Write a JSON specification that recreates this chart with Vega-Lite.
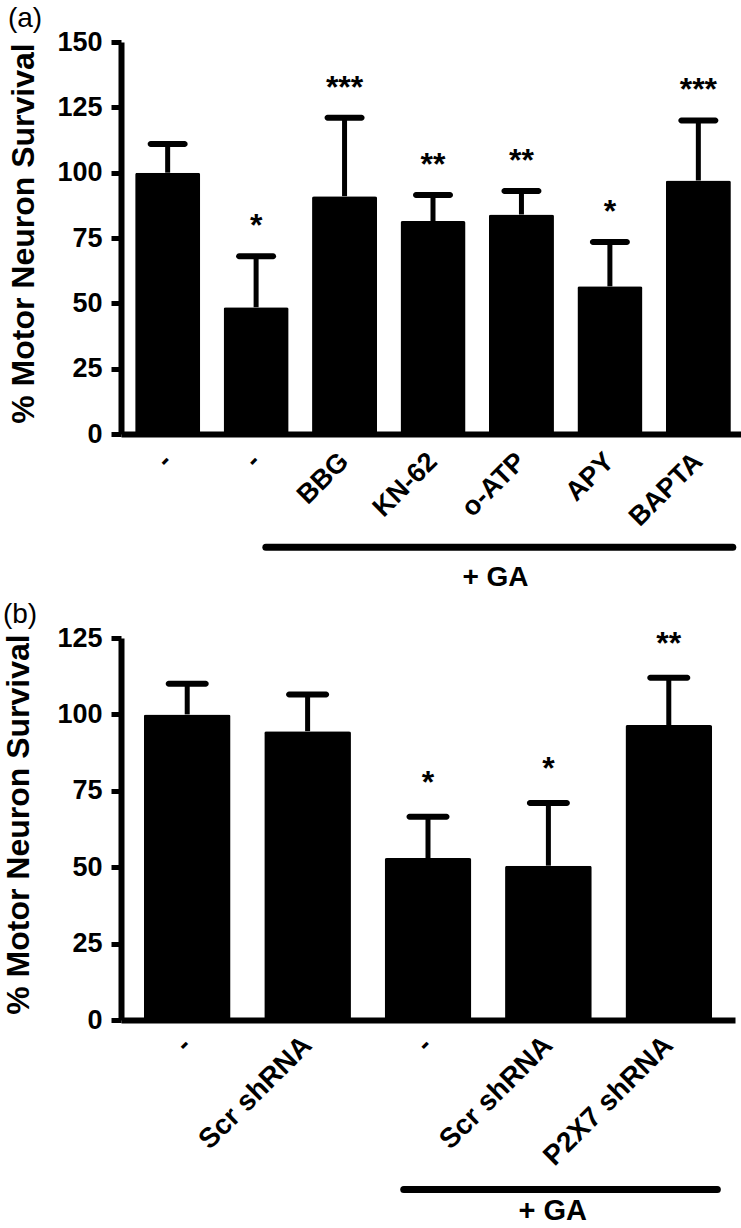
{
  "$schema": "https://vega.github.io/schema/vega-lite/v6.json",
  "padding": {"left": 2, "top": 5, "right": 0, "bottom": 0},
  "background": "white",
  "spacing": 9,
  "align": "none",
  "config": {
    "font": "Liberation Sans",
    "view": {"stroke": null},
    "axis": {
      "domainColor": "black", "domainWidth": 6, "tickColor": "black", "tickWidth": 5, "tickSize": 10,
      "labelFont": "Liberation Sans", "labelFontWeight": "bold", "labelColor": "black",
      "titleFont": "Liberation Sans", "titleFontWeight": "bold", "titleColor": "black", "grid": false
    },
    "axisX": {"ticks": false, "labels": false},
    "title": {"font": "Liberation Sans", "fontWeight": "normal", "fontSize": 28, "color": "black", "anchor": "start", "frame": "bounds", "offset": -5}
  },
  "vconcat": [
    {
      "title": "(a)",
      "width": 624,
      "height": 392,
      "data": {"values": [
        {"group": "ctrl", "label": "-", "mean": 100, "cap": 111, "sig": ""},
        {"group": "ga", "label": "-", "mean": 48.5, "cap": 68, "sig": "*"},
        {"group": "BBG", "label": "BBG", "mean": 91, "cap": 121, "sig": "***"},
        {"group": "KN-62", "label": "KN-62", "mean": 81.5, "cap": 91.5, "sig": "**"},
        {"group": "o-ATP", "label": "o-ATP", "mean": 84, "cap": 93, "sig": "**"},
        {"group": "APY", "label": "APY", "mean": 56.5, "cap": 73.5, "sig": "*"},
        {"group": "BAPTA", "label": "BAPTA", "mean": 97, "cap": 120, "sig": "***"}
      ]},
      "encoding": {
        "x": {"field": "group", "type": "nominal", "sort": null,
          "scale": {"domain": ["ctrl", "ga", "BBG", "KN-62", "o-ATP", "APY", "BAPTA"], "paddingInner": 0.265, "paddingOuter": 0.16},
          "axis": {"title": null, "ticks": false, "labels": false}},
        "y": {"type": "quantitative", "scale": {"domain": [0, 150], "nice": false},
          "axis": {"title": "% Motor Neuron Survival", "values": [0, 25, 50, 75, 100, 125, 150], "labelFontSize": 27, "titleFontSize": 32, "labelPadding": 9, "titlePadding": 16, "titleY": 191}}
      },
      "layer": [
        {"mark": {"type": "rule", "color": "black", "strokeWidth": 5}, "encoding": {"y": {"field": "mean"}, "y2": {"field": "cap"}}},
        {"mark": {"type": "tick", "color": "black", "opacity": 1, "size": 40, "thickness": 6, "cornerRadius": 3}, "encoding": {"y": {"field": "cap"}}},
        {"mark": {"type": "bar", "color": "black", "cornerRadius": 2}, "encoding": {"y": {"field": "mean"}}},
        {"mark": {"type": "text", "fontSize": 32, "fontWeight": "bold", "baseline": "alphabetic", "dy": -20, "color": "black"},
          "encoding": {"y": {"field": "cap"}, "text": {"field": "sig"}}},
        {"mark": {"type": "text", "fontSize": 27, "fontWeight": "bold", "angle": 315, "align": "right", "baseline": "middle", "color": "black"},
          "encoding": {"y": {"datum": -9}, "text": {"field": "label"}}},
        {"data": {"values": [{"from": "ga", "to": "BAPTA", "mid": "o-ATP", "lab": "+ GA"}]},
          "layer": [
            {"mark": {"type": "rule", "color": "black", "strokeWidth": 7, "strokeCap": "round"},
              "encoding": {"x": {"field": "from", "type": "nominal", "bandPosition": 0.65}, "x2": {"field": "to", "bandPosition": 1.03}, "y": {"datum": -43.3}}},
            {"mark": {"type": "text", "fontSize": 28, "fontWeight": "bold", "baseline": "middle", "color": "black"},
              "encoding": {"x": {"field": "mid", "type": "nominal", "bandPosition": 0.1}, "y": {"datum": -55}, "text": {"field": "lab"}}}
          ]}
      ]
    },
    {
      "title": "(b)",
      "width": 614,
      "height": 382,
      "data": {"values": [
        {"group": "ctrl", "label": "-", "mean": 100, "cap": 110, "sig": ""},
        {"group": "Scr shRNA", "label": "Scr shRNA", "mean": 94.5, "cap": 106.5, "sig": ""},
        {"group": "ga", "label": "-", "mean": 53, "cap": 66.5, "sig": "*"},
        {"group": "GA Scr shRNA", "label": "Scr shRNA", "mean": 50.5, "cap": 71, "sig": "*"},
        {"group": "P2X7 shRNA", "label": "P2X7 shRNA", "mean": 96.5, "cap": 112, "sig": "**"}
      ]},
      "encoding": {
        "x": {"field": "group", "type": "nominal", "sort": null,
          "scale": {"domain": ["ctrl", "Scr shRNA", "ga", "GA Scr shRNA", "P2X7 shRNA"], "paddingInner": 0.28, "paddingOuter": 0.19},
          "axis": {"title": null, "ticks": false, "labels": false}},
        "y": {"type": "quantitative", "scale": {"domain": [0, 125], "nice": false},
          "axis": {"title": "% Motor Neuron Survival", "values": [0, 25, 50, 75, 100, 125], "labelFontSize": 27, "titleFontSize": 32, "labelPadding": 9, "titlePadding": 21, "titleY": 186}}
      },
      "layer": [
        {"mark": {"type": "rule", "color": "black", "strokeWidth": 5}, "encoding": {"y": {"field": "mean"}, "y2": {"field": "cap"}}},
        {"mark": {"type": "tick", "color": "black", "opacity": 1, "size": 43, "thickness": 6, "cornerRadius": 3}, "encoding": {"y": {"field": "cap"}}},
        {"mark": {"type": "bar", "color": "black", "cornerRadius": 2}, "encoding": {"y": {"field": "mean"}}},
        {"mark": {"type": "text", "fontSize": 32, "fontWeight": "bold", "baseline": "alphabetic", "dy": -24, "color": "black"},
          "encoding": {"y": {"field": "cap"}, "text": {"field": "sig"}}},
        {"mark": {"type": "text", "fontSize": 28, "fontWeight": "bold", "angle": 315, "align": "right", "baseline": "middle", "color": "black"},
          "encoding": {"y": {"datum": -7}, "text": {"field": "label"}}},
        {"data": {"values": [{"from": "ga", "to": "P2X7 shRNA", "mid": "GA Scr shRNA", "lab": "+ GA"}]},
          "layer": [
            {"mark": {"type": "rule", "color": "black", "strokeWidth": 7, "strokeCap": "round"},
              "encoding": {"x": {"field": "from", "type": "nominal", "bandPosition": 0.22}, "x2": {"field": "to", "bandPosition": 1.06}, "y": {"datum": -55.5}}},
            {"mark": {"type": "text", "fontSize": 29, "fontWeight": "bold", "baseline": "middle", "color": "black"},
              "encoding": {"x": {"field": "mid", "type": "nominal", "bandPosition": 0.55}, "y": {"datum": -62.5}, "text": {"field": "lab"}}}
          ]}
      ]
    }
  ]
}
